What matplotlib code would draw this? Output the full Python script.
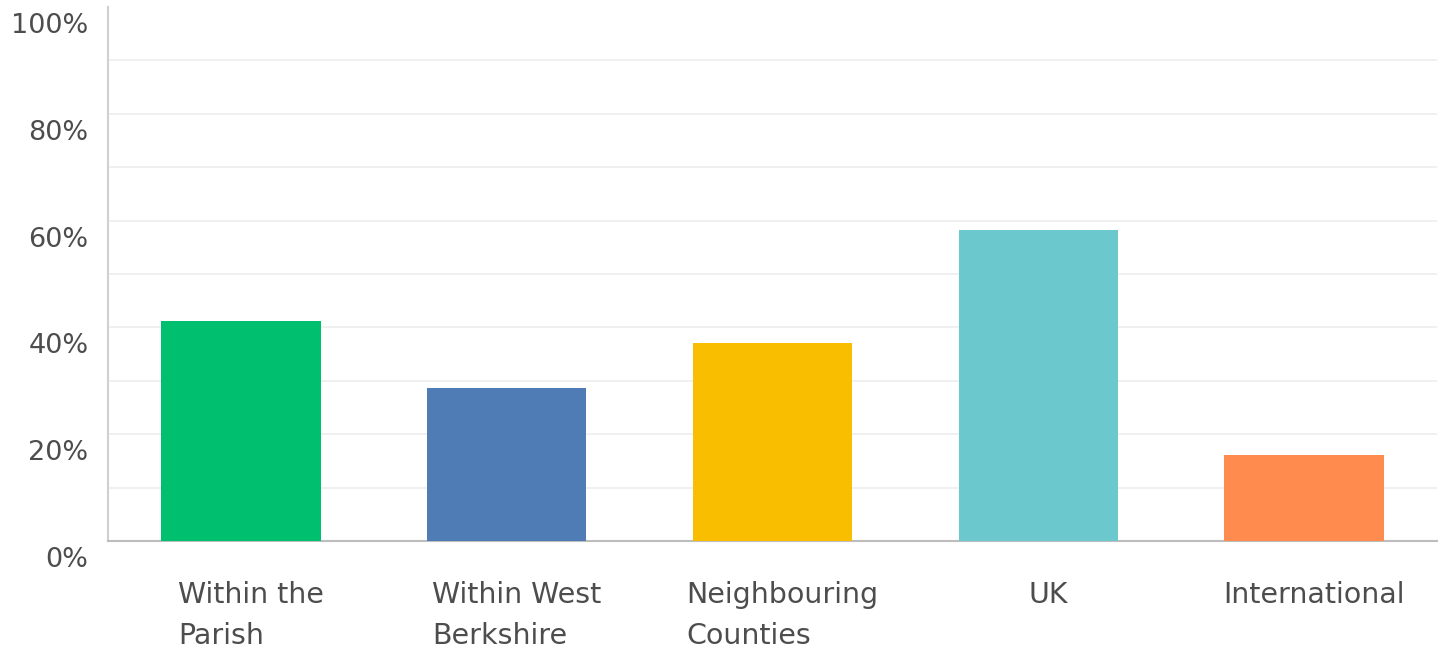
import matplotlib.pyplot as plt
from matplotlib.transforms import ScaledTranslation

# answers, in percent of respondents
categories = ["Within the\nParish", "Within West\nBerkshire", "Neighbouring\nCounties", "UK", "International"]
shares = [41.2, 28.7, 37.1, 58.2, 16.1]
colours = ["#00BF6F", "#507CB6", "#F9BE00", "#6BC8CD", "#FF8B4F"]
yticks = [0, 20, 40, 60, 80, 100]

fig = plt.figure(figsize=(14.38, 6.52), dpi=100)
ax = fig.add_axes([108 / 1438, 111 / 652, 1329 / 1438, 534 / 652])

x = range(len(categories))
ax.bar(x, shares, width=0.6, color=colours, zorder=3)

ax.set_xlim(-0.5, len(categories) - 0.5)
ax.set_ylim(0, 100)
ax.set_yticks(yticks)
ax.set_yticklabels([f"{t}%" for t in yticks])
ax.set_yticks(range(10, 100, 20), minor=True)
ax.grid(axis="y", which="both", color="#ededed", linewidth=1.2, zorder=0)
ax.yaxis.get_gridlines()[-1].set_visible(False)

ax.set_xticks(list(x))
ax.set_xticklabels(categories, multialignment="left", linespacing=1.6)

for s in ["top", "right"]:
    ax.spines[s].set_visible(False)
ax.spines["left"].set_color("#d0d0d0")
ax.spines["bottom"].set_color("#bdbdbd")
ax.spines["left"].set_linewidth(1.5)
ax.spines["bottom"].set_linewidth(1.5)

ax.tick_params(axis="both", which="both", length=0, labelcolor="#4d4d4d")
ax.tick_params(axis="y", pad=14, labelsize=19.5)
ax.tick_params(axis="x", pad=29, labelsize=20.5)

# y labels sit a bit below their gridlines
for lab in ax.get_yticklabels():
    lab.set_transform(lab.get_transform() + ScaledTranslation(0, -0.16, fig.dpi_scale_trans))
for lab in ax.get_xticklabels():
    lab.set_transform(lab.get_transform() + ScaledTranslation(0.1, 0, fig.dpi_scale_trans))

fig.savefig("out.png", dpi=100, facecolor="white")
